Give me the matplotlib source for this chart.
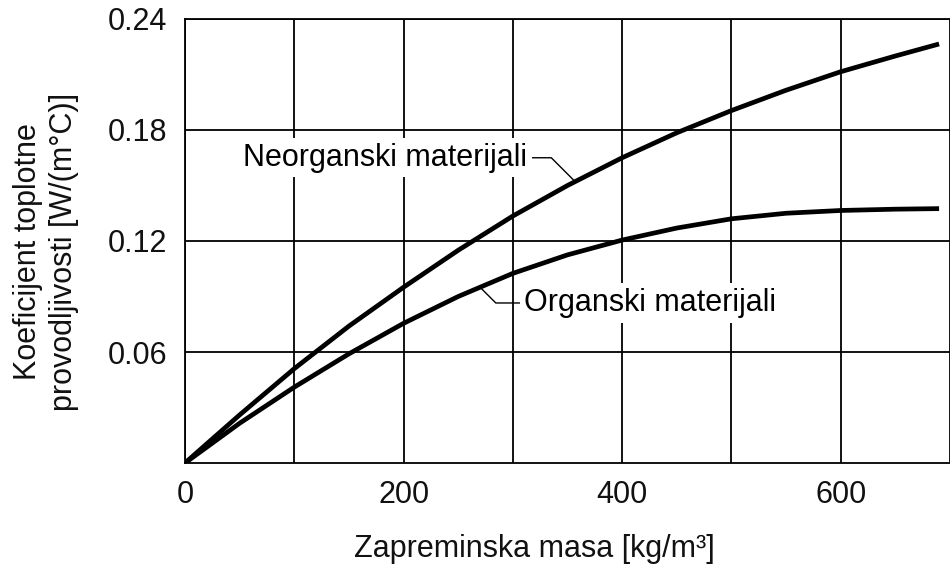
import numpy as np
import matplotlib
matplotlib.use("Agg")
import matplotlib.pyplot as plt

plt.rcParams['font.family'] = ['Liberation Sans', 'DejaVu Sans']
plt.rcParams['font.size'] = 22

# zapreminska masa [kg/m3]
masa = [0, 50, 100, 150, 200, 250, 300, 350, 400, 450, 500, 550, 600, 650, 690]
# koeficijent toplotne provodljivosti [W/(m°C)]
neorganski = [0, 0.026, 0.051, 0.074, 0.095, 0.115, 0.1335, 0.150, 0.165, 0.1785,
              0.1905, 0.2015, 0.2115, 0.220, 0.2265]
organski = [0, 0.0215, 0.041, 0.059, 0.0755, 0.090, 0.1025, 0.1125, 0.1205, 0.127,
            0.132, 0.135, 0.1365, 0.1372, 0.1375]

x_ticks = [0, 200, 400, 600]
x_grid = [100, 300, 500, 700]
y_ticks = [0.06, 0.12, 0.18, 0.24]

fig = plt.figure(figsize=(9.5, 5.65), dpi=100)
ax = fig.add_axes([185/950, 102/565, 765/950, 444/565])

ax.plot(masa, neorganski, color='black', lw=3.4, zorder=3, solid_capstyle='butt')
ax.plot(masa, organski, color='black', lw=3.4, zorder=3, solid_capstyle='butt')

ax.set_xlim(0, 689)
ax.set_ylim(0, 0.24)
ax.set_xticks(x_ticks)
ax.set_xticks(x_grid, minor=True)
ax.set_yticks(y_ticks)
ax.set_yticklabels(['%.2f' % v for v in y_ticks])
ax.grid(True, which='both', color='black', lw=1.3)
ax.tick_params(which='both', length=0)
ax.tick_params(axis='x', pad=12)
ax.tick_params(axis='y', pad=13)
ax.tick_params(labelcolor='#111111')
for s in ['left', 'bottom', 'top']:
    ax.spines[s].set_linewidth(1.3)
ax.spines['right'].set_visible(False)

box = dict(boxstyle='square,pad=0.15', fc='white', ec='none')
ax.annotate('Neorganski materijali', xy=(357, np.interp(357, masa, neorganski)),
            xytext=(313, 0.165), ha='right', va='center', bbox=box, zorder=4,
            arrowprops=dict(arrowstyle='-', color='black', lw=1.0, relpos=(1, 0.5),
                            shrinkA=0, shrinkB=0,
                            connectionstyle='angle,angleA=0,angleB=135,rad=0'))
ax.annotate('Organski materijali', xy=(270, np.interp(270, masa, organski)),
            xytext=(310.5, 0.0865), ha='left', va='center', bbox=box, zorder=4,
            arrowprops=dict(arrowstyle='-', color='black', lw=1.0, relpos=(0, 0.5),
                            shrinkA=0, shrinkB=0,
                            connectionstyle='angle,angleA=0,angleB=135,rad=0'))

fig.text(46/950, 1 - 252/565, 'Koeficijent toplotne\nprovodljivosti [W/(m°C)]',
         rotation=90, ha='center', va='center', linespacing=1.3, color='#111111')
fig.text(534/950, 1 - 549/565, 'Zapreminska masa [kg/m³]',
         ha='center', va='center', color='#111111')

fig.savefig('out.png', dpi=100)
